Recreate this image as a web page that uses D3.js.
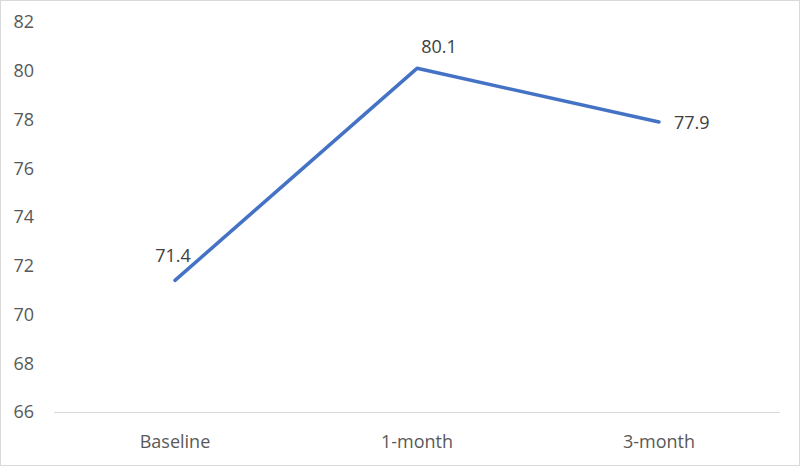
<!DOCTYPE html>
<html>
<head>
<meta charset="utf-8">
<script src="https://cdn.jsdelivr.net/npm/d3@7"></script>
<style>
  body { margin: 0; background: #fff; }
  svg { display: block; font-family: "Open Sans", sans-serif; }
</style>
</head>
<body>
<svg width="800" height="466"></svg>
<script>
const categories = ["Baseline", "1-month", "3-month"];
const values = [71.4, 80.1, 77.9];
const yTicks = [66, 68, 70, 72, 74, 76, 78, 80, 82];
// label offsets relative to each point: [dx, dy, anchor]
const labelPos = [[-2, -18, "middle"], [22, -15, "middle"], [15, 7, "start"]];

const svg = d3.select("svg");
const margin = { top: 22, right: 20, bottom: 54, left: 54 };
const width = +svg.attr("width") - margin.left - margin.right;
const height = +svg.attr("height") - margin.top - margin.bottom;

// outer border
svg.append("rect")
  .attr("x", 0.5).attr("y", 0.5)
  .attr("width", 799).attr("height", 465)
  .attr("fill", "none")
  .attr("stroke", "#d9d9d9");

const g = svg.append("g")
  .attr("transform", "translate(" + margin.left + "," + margin.top + ")");

const x = d3.scaleBand().domain(categories).range([0, width]);
const y = d3.scaleLinear().domain([66, 82]).range([height, 0]);

// y tick labels
g.selectAll(".ylab")
  .data(yTicks)
  .enter()
  .append("text")
  .attr("class", "ylab")
  .attr("x", -20)
  .attr("y", d => y(d))
  .attr("dy", "0.35em")
  .attr("text-anchor", "end")
  .attr("fill", "#595959")
  .style("font-size", "18px")
  .text(d => d);

// bottom axis line
g.append("line")
  .attr("x1", 0).attr("x2", width)
  .attr("y1", y(66) + 0.5).attr("y2", y(66) + 0.5)
  .attr("stroke", "#d9d9d9")
  .attr("stroke-width", 1);

// x labels
g.selectAll(".xlab")
  .data(categories)
  .enter()
  .append("text")
  .attr("class", "xlab")
  .attr("x", d => x(d) + x.bandwidth() / 2)
  .attr("y", height + 36)
  .attr("text-anchor", "middle")
  .attr("fill", "#595959")
  .style("font-size", "18px")
  .text(d => d);

const cx = (d, i) => x(categories[i]) + x.bandwidth() / 2;

const line = d3.line()
  .x((d, i) => cx(d, i))
  .y(d => y(d));

g.append("path")
  .datum(values)
  .attr("fill", "none")
  .attr("stroke", "#4472C4")
  .attr("stroke-width", 3.5)
  .attr("stroke-linecap", "round")
  .attr("stroke-linejoin", "round")
  .attr("d", line);

g.selectAll(".dlab")
  .data(values)
  .enter()
  .append("text")
  .attr("class", "dlab")
  .attr("x", (d, i) => cx(d, i) + labelPos[i][0])
  .attr("y", (d, i) => y(d) + labelPos[i][1])
  .attr("text-anchor", (d, i) => labelPos[i][2])
  .attr("fill", "#404040")
  .style("font-size", "18px")
  .text(d => d.toFixed(1));
</script>
</body>
</html>
